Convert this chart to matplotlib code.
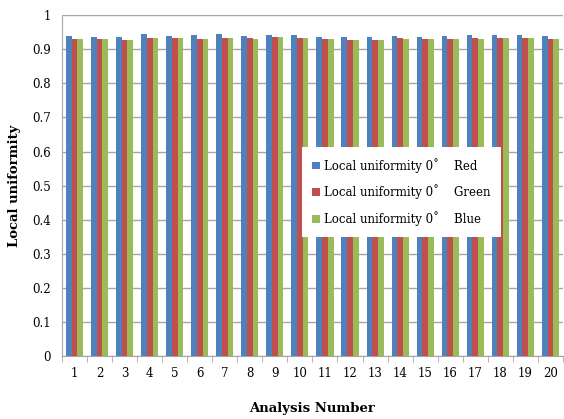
import matplotlib
matplotlib.use("Agg")
import matplotlib.pyplot as plt
import numpy as np

categories = [str(i) for i in range(1, 21)]
red = [0.938, 0.936, 0.937, 0.945, 0.940, 0.943, 0.944, 0.940, 0.942, 0.942,
       0.936, 0.936, 0.935, 0.938, 0.937, 0.938, 0.941, 0.941, 0.942, 0.938]
green = [0.930, 0.929, 0.926, 0.933, 0.934, 0.931, 0.932, 0.932, 0.935, 0.932,
         0.930, 0.928, 0.926, 0.932, 0.930, 0.929, 0.932, 0.932, 0.932, 0.930]
blue = [0.930, 0.929, 0.926, 0.933, 0.933, 0.931, 0.932, 0.931, 0.935, 0.932,
        0.929, 0.928, 0.927, 0.930, 0.930, 0.930, 0.931, 0.932, 0.932, 0.930]
labels = ["Local uniformity 0\u02da    Red", "Local uniformity 0\u02da    Green",
          "Local uniformity 0\u02da    Blue"]
yticks = [0, 0.1, 0.2, 0.3, 0.4, 0.5, 0.6, 0.7, 0.8, 0.9, 1]

plt.rcParams['font.family'] = ['DejaVu Serif']
fig = plt.figure(figsize=(5.64, 4.19), dpi=100)
ax = fig.add_axes([0.110, 0.150, 0.888, 0.814])

x = np.arange(len(categories))
w = 0.227
cols = ['#4F81BD', '#C0504D', '#9BBB59']
for i, (vals, c, lab) in enumerate(zip([red, green, blue], cols, labels)):
    ax.bar(x + (i - 1) * w, vals, width=w, color=c, label=lab, zorder=3)

ax.set_xlim(-0.5, len(categories) - 0.5)
ax.set_ylim(0, 1)
ax.set_yticks(yticks)
ax.set_yticklabels([f"{v:g}" for v in yticks], fontsize=8.5)
ax.yaxis.grid(True, color='#A6A6A6', linewidth=1, zorder=0)
ax.tick_params(axis='y', length=0, pad=8)
ax.set_xticks(x)
ax.set_xticklabels(categories, fontsize=8.5)
ax.tick_params(axis='x', length=0, pad=8)
ax.set_xticks(np.arange(-0.5, len(categories), 1), minor=True)
ax.tick_params(axis='x', which='minor', length=4, color='#A6A6A6', direction='out')
for s in ['top', 'right']:
    ax.spines[s].set_visible(False)
ax.spines['left'].set_color('#A6A6A6')
ax.spines['bottom'].set_color('#A6A6A6')

ax.set_ylabel("Local uniformity", fontsize=9.5, fontweight='bold', labelpad=8)
ax.set_xlabel("Analysis Number", fontsize=9.5, fontweight='bold', labelpad=16)

leg = ax.legend(loc='upper left', bbox_to_anchor=(0.467, 0.63), fontsize=8.5,
                frameon=True, fancybox=False, edgecolor='none', framealpha=1,
                handlelength=0.6, handleheight=0.6, handletextpad=0.4,
                labelspacing=1.0, borderpad=0.9)
leg.set_zorder(5)

fig.savefig("out.png", dpi=100)
